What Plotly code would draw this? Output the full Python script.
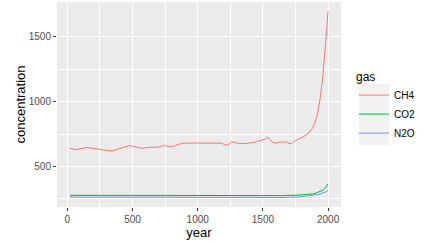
import plotly.graph_objects as go

years = list(range(20, 2001, 20))

ch4 = [640, 635, 630, 633, 638, 642, 645, 646, 642, 638,
       636, 633, 630, 627, 625, 623, 622, 626, 632, 638,
       641, 648, 655, 661, 658, 652, 647, 642, 641, 645,
       648, 649, 648, 647, 650, 656, 661, 658, 655, 654,
       658, 666, 675, 680, 679, 680, 682, 684, 682, 680,
       680, 681, 684, 685, 682, 685, 683, 680, 680, 672,
       664, 672, 690, 688, 680, 675, 680, 675, 678, 680,
       685, 688, 695, 700, 705, 712, 726, 700, 685, 680,
       688, 690, 685, 690, 678, 675, 695, 705, 712, 720,
       735, 750, 775, 795, 840, 910, 1030, 1200, 1440, 1700]

co2 = [278, 278, 278, 279, 279, 279, 279, 280, 280, 280,
       280, 280, 279, 279, 279, 278, 278, 278, 278, 278,
       278, 278, 278, 278, 278, 278, 278, 278, 278, 278,
       278, 278, 278, 278, 278, 278, 278, 278, 278, 278,
       279, 279, 279, 279, 279, 279, 280, 280, 280, 280,
       280, 280, 280, 280, 281, 281, 281, 281, 281, 281,
       281, 281, 280, 280, 280, 280, 280, 280, 280, 280,
       280, 280, 280, 280, 280, 281, 281, 281, 280, 277,
       276, 275, 275, 275, 276, 276, 277, 278, 280, 282,
       283, 284, 286, 288, 293, 300, 308, 317, 336, 368]

n2o = [264, 264, 264, 265, 265, 265, 265, 266, 266, 266,
       266, 266, 265, 265, 265, 265, 265, 265, 265, 265,
       265, 265, 265, 265, 265, 265, 265, 265, 265, 265,
       265, 265, 265, 266, 266, 266, 266, 266, 266, 266,
       266, 266, 266, 267, 267, 267, 267, 267, 267, 267,
       267, 267, 267, 267, 267, 267, 267, 267, 267, 267,
       267, 267, 267, 267, 267, 267, 267, 267, 267, 267,
       267, 267, 267, 267, 267, 267, 267, 267, 266, 263,
       262, 261, 261, 261, 262, 262, 263, 264, 266, 268,
       270, 271, 273, 275, 279, 284, 289, 295, 303, 316]

gases = ["CH4", "CO2", "N2O"]
series = [ch4, co2, n2o]
colors = ["#F8766D", "#00BA38", "#619CFF"]

W, H = 427, 246
ml, mr, mt, mb = 57, 86, 2, 39
pw = W - ml - mr
ph = H - mt - mb

FONT = "Liberation Sans, Arial, sans-serif"

fig = go.Figure()
for g, s, c in zip(gases, series, colors):
    fig.add_trace(go.Scatter(x=years, y=s, mode="lines", name=g,
                             line=dict(color=c, width=1)))

def px_x(p):
    return (p - ml) / pw

def px_y(p):
    return (H - mb - p) / ph

fig.add_shape(type="rect", xref="paper", yref="paper",
              x0=px_x(359), x1=px_x(389), y0=px_y(145), y1=px_y(84),
              fillcolor="#F2F2F2", line=dict(width=0), layer="below")

axis_common = dict(
    showgrid=True, gridcolor="white", gridwidth=1.1,
    zeroline=False, showline=False,
    ticks="outside", ticklen=3, tickwidth=1, tickcolor="#333333",
    tickfont=dict(family=FONT, size=10, color="#4D4D4D"),
    title_font=dict(family=FONT, size=13, color="black"),
)

fig.update_layout(
    width=W, height=H,
    margin=dict(l=ml, r=mr, t=mt, b=mb),
    paper_bgcolor="white", plot_bgcolor="#EBEBEB",
    font=dict(family=FONT),
    xaxis=dict(range=[-79, 2099], tickvals=[0, 500, 1000, 1500, 2000],
               minor=dict(tickvals=[250, 750, 1250, 1750], showgrid=True,
                          gridcolor="white", gridwidth=0.5, ticks=""),
               title=dict(text="year", standoff=2), **axis_common),
    yaxis=dict(range=[188, 1768], tickvals=[500, 1000, 1500],
               minor=dict(tickvals=[250, 750, 1250], showgrid=True,
                          gridcolor="white", gridwidth=0.5, ticks=""),
               title=dict(text="concentration", standoff=0), **axis_common),
    legend=dict(
        x=px_x(354), y=px_y(65), xanchor="left", yanchor="top",
        title=dict(text="gas", font=dict(family=FONT, size=12, color="black")),
        font=dict(family=FONT, size=10, color="black"),
        bgcolor="rgba(0,0,0,0)",
        itemwidth=30, tracegroupgap=4,
    ),
)

fig.write_html("out.html")
